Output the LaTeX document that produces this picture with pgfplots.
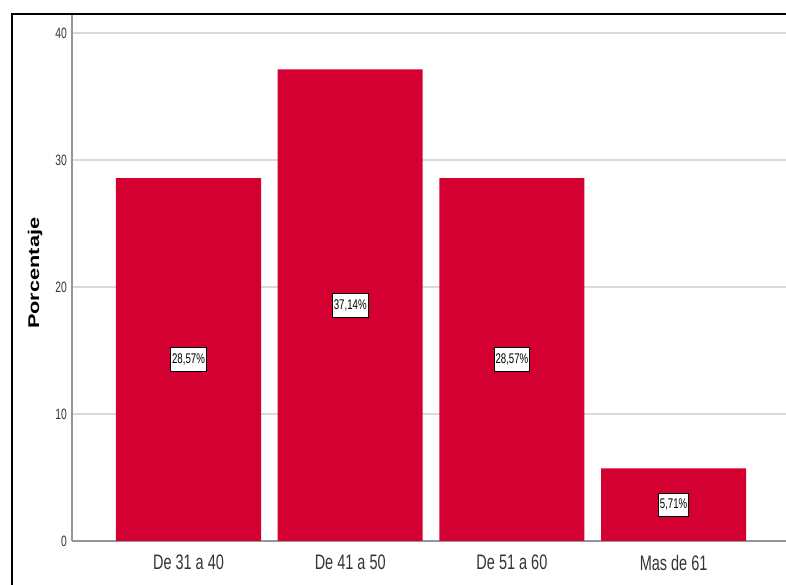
\documentclass[border=0pt]{standalone}
\usepackage{pgfplots}
\pgfplotsset{compat=1.18}
\usepackage{fontspec}
\setmainfont{Liberation Sans}
\newfontfamily\narrowfont[FakeStretch=0.69]{Liberation Sans}
\newfontfamily\tallfont[FakeStretch=1.4]{Liberation Sans}
\definecolor{barred}{RGB}{213,0,50}
\definecolor{gridgray}{RGB}{218,218,218}
\definecolor{axgray}{RGB}{150,150,150}
\begin{document}
\begin{tikzpicture}
\path[use as bounding box] (0,0) rectangle (786bp,585bp);
\clip (0,0) rectangle (786bp,585bp);
\begin{axis}[
  at={(72bp,44bp)}, anchor=south west,
  scale only axis, width=714bp, height=527bp,
  xmin=-0.7205, xmax=3.695, ymin=0, ymax=41.5,
  axis x line*=bottom, axis y line*=left,
  axis line style={draw=axgray, line width=1.2bp},
  major tick length=0pt,
  xtick={0,1,2,3},
  xticklabels={De 31 a 40, De 41 a 50, De 51 a 60, Mas de 61},
  ytick={0,10,20,30,40},
  /pgf/number format/assume math mode=true,
  xticklabel style={font=\narrowfont\fontsize{21bp}{24bp}\selectfont, inner sep=0pt, yshift=-14bp, text=black!80},
  yticklabel style={font=\narrowfont\fontsize{15bp}{18bp}\selectfont, inner sep=0pt, xshift=-5bp, text=black!80},
  ymajorgrids,
  major grid style={draw=gridgray, line width=1.6bp},
  ylabel={\tallfont\bfseries\fontsize{15.5bp}{18bp}\selectfont Porcentaje},
  ylabel style={at={(axis description cs:-0.0518,0.508)}, anchor=center},
]
\addplot[ybar, bar width=0.897, fill=barred, draw=none] coordinates {(0,28.57) (1,37.14) (2,28.57) (3,5.71)};
\addplot[draw=none, mark=none, nodes near coords, point meta=explicit symbolic,
  every node near coord/.style={anchor=center, fill=white, draw=black, line width=0.8bp,
    inner xsep=1.5bp, inner ysep=6bp, font=\narrowfont\fontsize{14bp}{16bp}\selectfont}]
  coordinates {(0,14.285) [{28,57\%}] (1,18.57) [{37,14\%}] (2,14.285) [{28,57\%}] (3,2.855) [{5,71\%}]};
\end{axis}
\draw[black, line width=2bp] (12bp,-10bp) -- (12bp,571bp) -- (800bp,571bp);
\end{tikzpicture}
\end{document}
